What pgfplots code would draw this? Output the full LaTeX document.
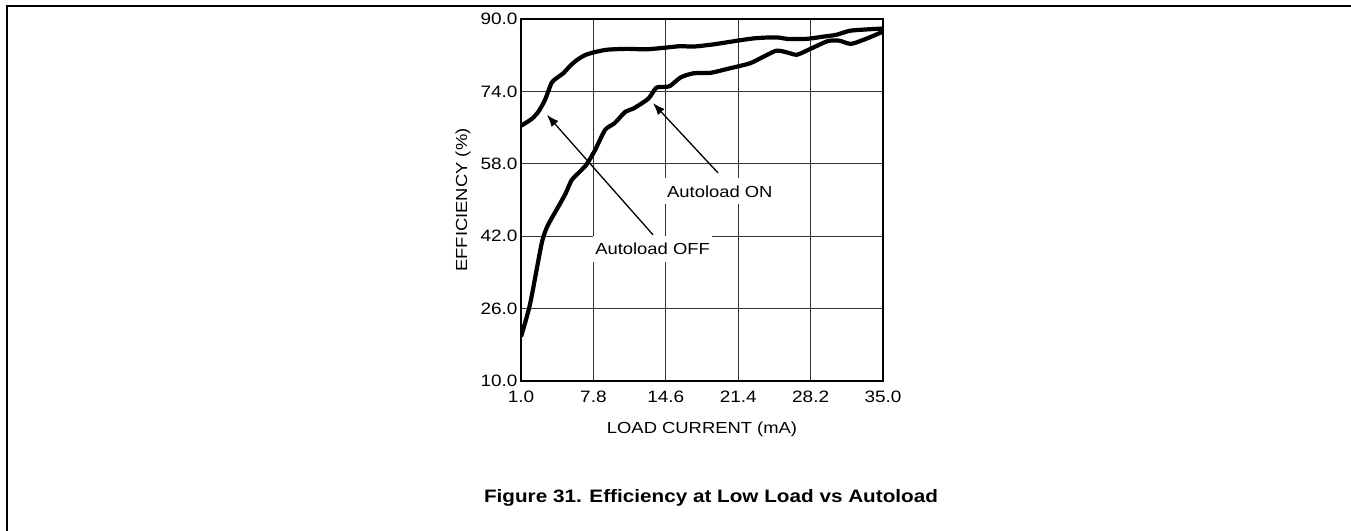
\documentclass[border=0pt]{standalone}
\usepackage{fontspec}
\setmainfont{Liberation Sans}[FakeStretch=1.15]
\usepackage{pgfplots}
\pgfplotsset{compat=1.18}
\usetikzlibrary{arrows.meta}

\begin{document}
\begin{tikzpicture}[x=1bp,y=1bp]
\useasboundingbox (0,0) rectangle (1351,531);
\draw[line width=2bp] (7.3,0) -- (7.3,525) -- (1351,525);
\begin{axis}[
  at={(521bp,150bp)}, anchor=south west,
  width=362bp, height=362bp, scale only axis,
  xmin=1, xmax=35, ymin=10, ymax=90,
  xtick={1,7.8,14.6,21.4,28.2,35},
  ytick={10,26,42,58,74,90},
  grid=major,
  major grid style={line width=1.3bp, color=black!80},
  axis line style={line width=2.5bp},
  tick style={draw=none},
  every tick label/.append style={font=\fontsize{16.5bp}{18bp}\selectfont},
  xticklabel style={yshift=-6bp},
  /pgf/number format/.cd, fixed, fixed zerofill, precision=1, assume math mode=true,
  /pgfplots/.cd,
  xlabel={LOAD CURRENT (mA)},
  ylabel={EFFICIENCY (\%)},
  every axis x label/.style={at={(rel axis cs:0.5,0)}, anchor=base, yshift=-53bp, font=\fontsize{16bp}{18bp}\selectfont},
  every axis y label/.style={at={(axis description cs:-0.16,0.5)}, rotate=90, anchor=center, font=\fontsize{16bp}{18bp}\selectfont},
]
\addplot[black, line width=4.2bp, smooth, tension=0.4] coordinates {
(1,66.4) (2.0,67.9) (2.63,69.5) (3.25,72.1) (3.88,75.9) (4.5,77.2) (4.97,78.0) (5.6,79.6) (6.23,80.9) (7.0,82.0) (7.79,82.6) (9.05,83.2) (10.9,83.4) (12.8,83.3) (14.7,83.7) (16.0,84.0) (17.2,83.9) (19.1,84.4) (21.3,85.2) (22.8,85.7) (24.1,85.9) (25.2,85.9) (26.0,85.6) (27.8,85.6) (29.4,86.1) (30.6,86.5) (31.9,87.4) (33.5,87.7) (35,87.9)
};
\addplot[black, line width=4.2bp, smooth, tension=0.4] coordinates {
(1,19.8) (1.85,27.0) (2.94,40.4) (3.5,44.3) (4.5,48.5) (5.2,51.5) (5.76,54.4) (6.5,56.2) (7.17,57.9) (7.95,61.0) (8.9,65.5) (9.8,67.0) (10.8,69.5) (11.55,70.2) (12.96,72.4) (13.7,74.8) (14.5,75.0) (15.0,75.2) (16.0,77.1) (17.2,78.0) (18.8,78.1) (20.6,79.1) (22.5,80.2) (23.8,81.7) (25.0,83.0) (26.0,82.6) (26.9,82.1) (28.1,83.3) (29.8,85.1) (30.9,85.2) (32.0,84.5) (33.5,85.7) (35,87.2)
};
\draw[line width=1.3bp, -{Latex[length=12bp,width=9bp]}] (axis cs:19.5,56.0) -- (axis cs:13.4,71.4);
\draw[line width=1.3bp, -{Latex[length=12bp,width=9bp]}] (axis cs:13.4,42.3) -- (axis cs:3.44,68.8);
\node[fill=white, inner xsep=2bp, inner ysep=7bp, anchor=base west, font=\fontsize{16bp}{18bp}\selectfont] at (axis cs:14.52,50.66) {Autoload ON};
\node[fill=white, inner xsep=2bp, inner ysep=7bp, anchor=base west, font=\fontsize{16bp}{18bp}\selectfont] at (axis cs:7.77,37.85) {Autoload OFF};
\end{axis}
\node[anchor=base, font=\fontsize{18bp}{20bp}\selectfont\bfseries] at (711,28) {Figure 31. Efficiency at Low Load vs Autoload};
\end{tikzpicture}
\end{document}
